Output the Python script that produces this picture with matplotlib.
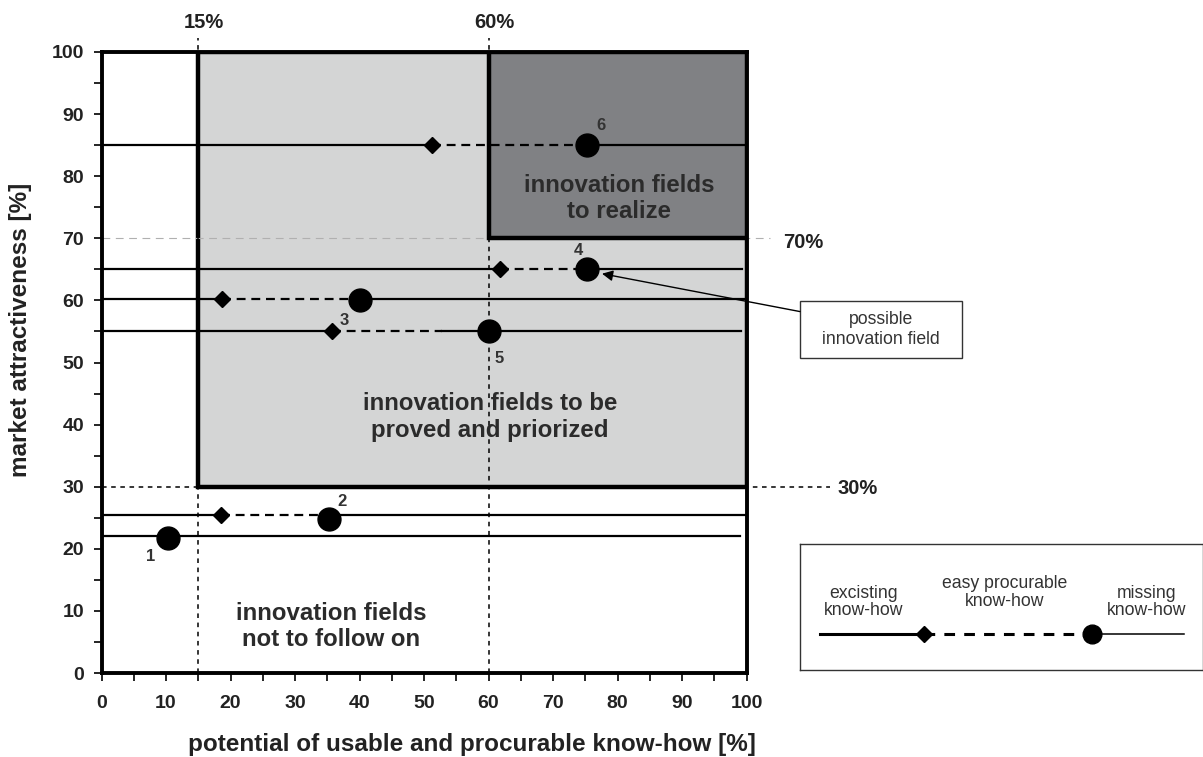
import matplotlib.pyplot as plt
from matplotlib.patches import Rectangle

plt.rcParams['font.family'] = ['Liberation Sans', 'DejaVu Sans']

# innovation fields 1..6
field_ids = ['1', '2', '3', '4', '5', '6']
row_y = [22, 25.5, 60.2, 65, 55, 85]            # market attractiveness of each row
easy_x = [None, 18.5, 18.7, 61.8, 35.7, 51.3]    # start of easy procurable know-how
dash_end_x = [None, 35.2, 40.1, 75.2, 52.8, 75.2]
missing_x = [10.3, 35.2, 40.1, 75.2, 60.1, 75.2]  # start of missing know-how (circle)
missing_y = [21.8, 24.8, 60.0, 65, 55, 85]
row_end = [99.0, 99.8, 99.8, 99.3, 99.1, 99.8]
label_x = [7.6, 37.3, 37.6, 74.0, 61.6, 77.5]
label_y = [18.8, 27.6, 56.8, 68.0, 50.6, 88.1]

know_how_limits = [15, 60]
attract_limits = [30, 70]

fig = plt.figure(figsize=(12.03, 7.57), dpi=100)
ax = fig.add_axes([101.5/1203, 1-673/757, 645/1203, 621/757])
ax.set_xlim(0, 100)
ax.set_ylim(0, 100)

# areas
ax.add_patch(Rectangle((know_how_limits[0], attract_limits[0]), 100-know_how_limits[0], 100-attract_limits[0],
                       facecolor='#d4d5d5', edgecolor='black', lw=3.2, zorder=1))
ax.add_patch(Rectangle((know_how_limits[1], attract_limits[1]), 100-know_how_limits[1], 100-attract_limits[1],
                       facecolor='#808184', edgecolor='black', lw=3.2, zorder=2))

# limit lines
for xv in know_how_limits:
    ax.plot([xv, xv], [0, 102.3], color='black', lw=1.1, ls=(0, (3, 3)), clip_on=False, zorder=3)
    ax.text(xv+0.9, 104.7, '%d%%' % xv, ha='center', va='center', fontsize=14.5, fontweight='bold', color='#222222')
ax.plot([0, 113], [attract_limits[0]]*2, color='black', lw=1.1, ls=(0, (3, 3)), clip_on=False, zorder=3)
ax.text(117.3, attract_limits[0] - 0.3, '30%', ha='center', va='center', fontsize=14.5, fontweight='bold', color='#222222')
ax.plot([0, 103.6], [attract_limits[1]]*2, color='#b0b0b0', lw=0.8, ls=(0, (7, 5)), clip_on=False, zorder=1.5)
ax.text(108.8, attract_limits[1]-0.6, '70%', ha='center', va='center', fontsize=14.5, fontweight='bold', color='#222222')

# rows
for i in range(len(field_ids)):
    y = row_y[i]
    if easy_x[i] is None:
        ax.plot([0, row_end[i]], [y, y], color='black', lw=1.6, zorder=4)
    else:
        ax.plot([0, easy_x[i]], [y, y], color='black', lw=1.6, zorder=4)
        ax.plot([easy_x[i], dash_end_x[i]], [y, y], color='black', lw=1.6, ls=(0, (4, 2.6)), zorder=4)
        ax.plot([dash_end_x[i], row_end[i]], [y, y], color='black', lw=1.6, zorder=4)
        ax.plot(easy_x[i], y, 'D', color='black', markersize=8.5, zorder=5)
    ax.plot(missing_x[i], missing_y[i], 'o', color='black', markersize=16.5, zorder=5)
    ax.text(label_x[i], label_y[i], field_ids[i], ha='center', va='center', fontsize=12,
            fontweight='bold', color='#333333', zorder=6)

# area texts
ax.text(80.2, 76.4, 'innovation fields\nto realize', ha='center', va='center', fontsize=17.3,
        fontweight='bold', color='#2b2b2b', linespacing=1.2, zorder=6)
ax.text(60.2, 41.2, 'innovation fields to be\nproved and priorized', ha='center', va='center', fontsize=17.3,
        fontweight='bold', color='#2b2b2b', linespacing=1.2, zorder=6)
ax.text(35.6, 7.5, 'innovation fields\nnot to follow on', ha='center', va='center', fontsize=17.3,
        fontweight='bold', color='#2b2b2b', linespacing=1.2, zorder=6)

# axes
ax.set_xticks(range(0, 101, 10))
ax.set_yticks(range(0, 101, 10))
ax.set_xticks(range(5, 100, 10), minor=True)
ax.set_yticks(range(5, 100, 10), minor=True)
ax.tick_params(which='both', direction='out', length=5.5, width=1.2, color='black')
ax.tick_params(labelsize=14)
ax.tick_params(axis='x', pad=10)
ax.tick_params(axis='y', pad=7)
for lab in ax.get_xticklabels() + ax.get_yticklabels():
    lab.set_fontweight('bold')
    lab.set_color('#222222')
for s in ax.spines.values():
    s.set_linewidth(2.8)
    s.set_zorder(7)
fig.text(472/1203, 1-744/757, 'potential of usable and procurable know-how [%]', ha='center', va='center',
         fontsize=17.5, fontweight='bold', color='#222222')
fig.text(21/1203, 1-330/757, 'market attractiveness [%]', ha='center', va='center', rotation=90,
         fontsize=17.5, fontweight='bold', color='#222222')

# call-out
ax.add_patch(Rectangle((108.3, 50.8), 25.1, 9.1, facecolor='white', edgecolor='#333333', lw=1.0, clip_on=False))
ax.text(120.85, 55.3, 'possible\ninnovation field', ha='center', va='center', fontsize=12.7, color='#333333',
        linespacing=1.2)
ax.annotate('', xy=(77.6, 64.3), xytext=(108.3, 58.2), annotation_clip=False,
            arrowprops=dict(arrowstyle='-|>', lw=1.0, color='black', mutation_scale=16, shrinkA=0, shrinkB=0))

# legend box
lax = fig.add_axes([799.5/1203, 1-670/757, 403/1203, 126/757])
lax.set_xlim(0, 1)
lax.set_ylim(0, 1)
lax.set_xticks([])
lax.set_yticks([])
for s in lax.spines.values():
    s.set_linewidth(1.0)
    s.set_color('#333333')
lax.plot([0.051, 0.31], [0.286, 0.286], color='black', lw=2.2)
lax.plot([0.31, 0.68], [0.286, 0.286], color='black', lw=2.2, ls=(0, (3.5, 3)))
lax.plot([0.725, 0.954], [0.286, 0.286], color='black', lw=1.1)
lax.plot(0.31, 0.286, 'D', color='black', markersize=8.5)
lax.plot(0.725, 0.286, 'o', color='black', markersize=13.5)
lax.text(0.158, 0.54, 'excisting\nknow-how', ha='center', va='center', fontsize=12.7, color='#333333',
         linespacing=1.05)
lax.text(0.51, 0.615, 'easy procurable\nknow-how', ha='center', va='center', fontsize=12.7, color='#333333',
         linespacing=1.05)
lax.text(0.862, 0.54, 'missing\nknow-how', ha='center', va='center', fontsize=12.7, color='#333333',
         linespacing=1.05)

fig.savefig('out.png', dpi=100)
